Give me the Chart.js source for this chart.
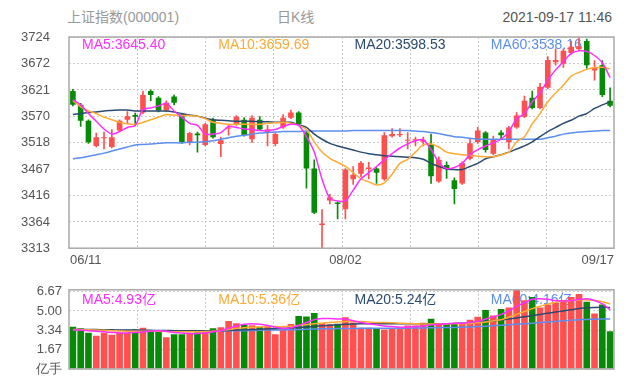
<!DOCTYPE html>
<html>
<head>
<meta charset="utf-8">
<script src="https://cdn.jsdelivr.net/npm/chart.js@4.4.0/dist/chart.umd.min.js"></script>
<style>
body { margin: 0; background: #fff; width: 641px; height: 388px; overflow: hidden; font-family: "Liberation Sans", Arial, "Noto Sans CJK SC", sans-serif; }
.head { position: absolute; top: 8px; font-size: 14px; line-height: 18px; white-space: nowrap; }
#title { left: 67px; color: #999; }
#period { left: 277px; color: #999; }
#stamp { right: 29px; color: #555; }
#kline { position: absolute; left: 0; top: 0; }
#volume { position: absolute; left: 0; top: 275px; }
</style>
</head>
<body>
<div class="head" id="title">上证指数(000001)</div>
<div class="head" id="period">日K线</div>
<div class="head" id="stamp">2021-09-17 11:46</div>
<canvas id="kline" width="641" height="275"></canvas>
<canvas id="volume" width="641" height="113"></canvas>
<script>
// trading days 06/11 - 09/17
var dates = ['06/11','06/15','06/16','06/17','06/18','06/21','06/22','06/23','06/24','06/25','06/28','06/29','06/30',
    '07/01','07/02','07/05','07/06','07/07','07/08','07/09','07/12','07/13','07/14','07/15','07/16','07/19','07/20','07/21','07/22','07/23','07/26','07/27','07/28','07/29','07/30',
    '08/02','08/03','08/04','08/05','08/06','08/09','08/10','08/11','08/12','08/13','08/16','08/17','08/18','08/19','08/20','08/23','08/24','08/25','08/26','08/27','08/30','08/31',
    '09/01','09/02','09/03','09/06','09/07','09/08','09/09','09/10','09/13','09/14','09/15','09/16','09/17'];
var axisDates = ['06/11', '08/02', '09/17'];

var openP = [3619,3592,3561,3512,3527,3510,3542,3563,3572,3577,3619,3606,3581,3608,3573,3519,3536,3514,3563,3516,
    3546,3554,3563,3525,3563,3538,3516,3548,3567,3577,3538,3468,3358,3406,3402,3389,3447,3458,3467,3468,
    3447,3531,3533,3522,3522,3520,3515,3443,3475,3445,3439,3487,3519,3538,3497,3538,3519,3548,3569,3606,
    3586,3625,3675,3672,3693,3700,3716,3659,3669,3600];
var closeP = [3592,3561,3519,3529,3529,3529,3561,3570,3569,3611,3611,3581,3596,3596,3519,3537,3533,3554,3529,3523,
    3548,3569,3533,3567,3544,3544,3535,3567,3577,3554,3468,3382,3361,3412,3399,3466,3456,3479,3470,3460,
    3533,3535,3535,3524,3525,3524,3453,3485,3468,3428,3479,3517,3542,3504,3525,3533,3548,3571,3600,3586,
    3627,3679,3679,3697,3705,3706,3669,3665,3611,3590];
var highP = [3622,3595,3563,3537,3539,3544,3563,3579,3576,3619,3621,3608,3600,3611,3575,3539,3539,3556,3566,3529,
    3552,3571,3567,3571,3569,3552,3538,3573,3582,3579,3540,3485,3388,3418,3403,3468,3472,3482,3480,3470,
    3538,3546,3546,3538,3529,3529,3535,3491,3481,3450,3481,3525,3548,3540,3531,3542,3550,3577,3609,3619,
    3634,3686,3701,3701,3716,3723.8,3720,3678,3678,3625];
var lowP = [3590,3550,3517,3510,3506,3508,3540,3556,3552,3575,3600,3578,3579,3592,3517,3514,3500,3512,3527,3491,
    3533,3552,3531,3519,3542,3512,3512,3546,3565,3552,3430,3380,3313,3399,3370,3370,3437,3452,3448,3439,
    3445,3529,3530,3506,3512,3512,3439,3441,3449,3399,3437,3485,3517,3500,3495,3525,3506,3546,3567,3584,
    3584,3623,3669,3665,3690,3697,3663,3640,3608,3588];

var ma5 = [3602,3592,3575,3560,3545,3535,3540,3548,3552,3583,3586,3590,3595,3580,3568,3556,3552,3535,3535,3538,
    3550,3548,3545,3544,3542,3542,3544,3550,3554,3552,3530,3500,3447,3410,3405,3405,3426,3448,3460,3472,
    3485,3497,3508,3516,3522,3524,3505,3480,3468,3470,3478,3495,3505,3512,3518,3525,3540,3565,3575,3598,
    3615,3640,3660,3676,3692,3697,3696,3688,3674,3645];
var ma10 = [3600,3588,3580,3575,3568,3563,3558,3555,3554,3558,3563,3568,3573,3572,3571,3571,3570,3565,3558,3556,
    3554,3554,3554,3554,3554,3556,3557,3558,3556,3552,3544,3520,3500,3488,3480,3472,3460,3448,3442,3436,
    3440,3457,3478,3486,3500,3514,3516,3510,3500,3497,3495,3494,3492,3491,3491,3495,3500,3520,3530,3555,
    3575,3598,3615,3630,3648,3655,3661,3664,3665,3662];
var ma20 = [3573,3575,3577,3578,3580,3581,3582,3582,3580,3580,3580,3580,3580,3578,3575,3572,3570,3566,3563,3562,
    3561,3560,3560,3560,3559,3559,3558,3558,3558,3553,3548,3535,3525,3517,3512,3508,3504,3500,3497,3495,
    3493,3492,3491,3490,3489,3486,3478,3472,3467,3466,3466,3472,3478,3487,3491,3495,3500,3506,3512,3520,
    3530,3540,3548,3556,3562,3570,3575,3585,3592,3598];
var ma60 = [3487,3489,3492,3495,3498,3502,3506,3510,3514,3515,3516,3517,3518,3518,3518,3519,3519,3520,3522,3525,
    3528,3531,3533,3535,3537,3538,3539,3540,3540,3540,3541,3541,3541,3541,3541,3541,3542,3542,3542,3542,
    3542,3542,3542,3542,3541,3540,3538,3536,3533,3530,3529,3527,3525,3525,3525,3525,3525,3525,3525,3525,
    3525,3528,3531,3535,3537,3539,3540,3541,3542,3542];

var volume = [3.63,3.50,3.12,2.86,3.12,2.94,3.12,3.12,3.42,3.55,3.25,3.25,2.73,3.00,3.00,3.12,3.17,3.25,3.50,3.60,
    4.14,3.94,3.80,3.76,3.63,3.63,3.00,3.38,3.88,4.57,4.52,4.83,3.96,3.85,3.90,4.45,4.00,3.56,3.56,3.45,
    3.40,3.50,3.60,3.75,3.75,3.98,4.32,3.87,3.87,3.87,3.87,4.25,4.50,5.08,4.60,5.16,5.30,6.85,5.93,6.20,
    5.30,5.56,5.70,5.95,6.20,6.45,5.80,4.78,5.56,3.25];
var vma5 = [3.35,3.35,3.3,3.25,3.2,3.15,3.1,3.1,3.15,3.2,3.25,3.3,3.25,3.15,3.1,3.05,3.05,3.1,3.2,3.3,
    3.5,3.7,3.85,3.9,3.85,3.75,3.6,3.5,3.55,3.75,4.0,4.25,4.35,4.35,4.3,4.3,4.15,4.0,3.9,3.8,
    3.7,3.65,3.6,3.6,3.65,3.7,3.8,3.85,3.9,3.95,3.95,4.0,4.1,4.3,4.5,4.7,5.0,5.4,5.7,6.0,
    6.05,6.0,5.9,5.85,5.9,6.0,6.05,5.9,5.6,5.1];
var vma10 = [3.4,3.4,3.38,3.35,3.33,3.3,3.28,3.25,3.25,3.25,3.25,3.25,3.22,3.2,3.2,3.2,3.2,3.22,3.25,3.3,
    3.4,3.5,3.55,3.6,3.62,3.65,3.65,3.65,3.68,3.75,3.82,3.9,3.95,4.0,4.05,4.1,4.1,4.08,4.05,4.0,
    4.0,3.98,3.95,3.92,3.9,3.88,3.88,3.88,3.88,3.9,3.9,3.92,3.98,4.05,4.15,4.25,4.45,4.7,4.95,5.2,
    5.4,5.6,5.75,5.85,5.9,5.95,5.95,5.9,5.8,5.6];
var vma20 = [3.4,3.4,3.4,3.4,3.38,3.38,3.36,3.35,3.35,3.34,3.33,3.32,3.32,3.3,3.3,3.3,3.3,3.3,3.3,3.3,
    3.32,3.35,3.38,3.4,3.42,3.45,3.47,3.5,3.53,3.57,3.62,3.67,3.72,3.77,3.8,3.85,3.88,3.9,3.9,3.9,
    3.9,3.9,3.9,3.9,3.9,3.9,3.9,3.9,3.9,3.92,3.95,3.98,4.02,4.08,4.14,4.22,4.3,4.4,4.5,4.6,
    4.7,4.8,4.9,5.0,5.1,5.2,5.27,5.3,5.32,5.3];
var vma60 = [3.35,3.35,3.34,3.34,3.33,3.33,3.32,3.32,3.31,3.3,3.3,3.3,3.3,3.3,3.3,3.3,3.3,3.3,3.3,3.3,
    3.3,3.3,3.3,3.32,3.33,3.35,3.36,3.37,3.38,3.4,3.42,3.44,3.46,3.47,3.48,3.48,3.49,3.5,3.5,3.5,
    3.5,3.5,3.51,3.52,3.53,3.54,3.55,3.56,3.57,3.58,3.6,3.62,3.65,3.68,3.72,3.76,3.8,3.85,3.9,3.95,
    4.0,4.05,4.1,4.15,4.2,4.24,4.27,4.29,4.3,4.3];

var priceTicks = [3313, 3364, 3416, 3467, 3518, 3570, 3621, 3672, 3724];
var volumeTicks = [0, 1.67, 3.34, 5.00, 6.67];
var priceLegend = ['MA5:3645.40', 'MA10:3659.69', 'MA20:3598.53', 'MA60:3538.16'];
var volumeLegend = ['MA5:4.93亿', 'MA10:5.36亿', 'MA20:5.24亿', 'MA60:4.16亿'];

var upColor = '#ff4f4f';
var downColor = '#078a07';
var maColors = ['#ff2eff', '#ffaa33', '#2b4a6f', '#5b8ef0'];
var textFont = '14px "Liberation Sans", Arial, "Noto Sans CJK SC", sans-serif';

var candleColors = closeP.map(function (c, i) { return c >= openP[i] ? upColor : downColor; });
var bodies = closeP.map(function (c, i) { return [openP[i], c]; });
var wicks = highP.map(function (h, i) { return [lowP[i], h]; });

function maLine(label, data, color) {
    return {
        type: 'line', label: label, data: data, borderColor: color, borderWidth: 1.5,
        pointRadius: 0, tension: 0.25, order: 0
    };
}

// dotted column lines, legend text, frame and date labels
function framePlugin(legend, legendOffset, withDates) {
    return {
        id: 'frame',
        beforeDatasetsDraw: function (chart) {
            var ctx = chart.ctx, a = chart.chartArea;
            var w = a.right - a.left;
            ctx.save();
            ctx.strokeStyle = '#c8c8c8';
            ctx.lineWidth = 1;
            ctx.setLineDash([2, 2]);
            for (var k = 1; k < 8; k++) {
                var x = Math.round(a.left + k * w / 8) + 0.5;
                ctx.beginPath();
                ctx.moveTo(x, a.top);
                ctx.lineTo(x, a.bottom);
                ctx.stroke();
            }
            ctx.setLineDash([]);
            ctx.font = textFont;
            ctx.textBaseline = 'middle';
            ctx.textAlign = 'left';
            for (var j = 0; j < legend.length; j++) {
                ctx.fillStyle = maColors[j];
                ctx.fillText(legend[j], a.left + 13 + j * w / 4, a.top + legendOffset);
            }
            ctx.restore();
        },
        afterDraw: function (chart) {
            var ctx = chart.ctx, a = chart.chartArea;
            ctx.save();
            ctx.strokeStyle = '#a9a9a9';
            ctx.lineWidth = 1.5;
            ctx.strokeRect(a.left, a.top, a.right - a.left, a.bottom - a.top);
            if (withDates) {
                var xs = chart.scales.x;
                ctx.font = '13px "Liberation Sans", Arial, sans-serif';
                ctx.fillStyle = '#555';
                ctx.textBaseline = 'middle';
                axisDates.forEach(function (d, n) {
                    var idx = dates.indexOf(d);
                    if (n === 0) {
                        ctx.textAlign = 'left';
                        ctx.fillText(d, a.left + 1, a.bottom + 12);
                    } else if (n === axisDates.length - 1) {
                        ctx.textAlign = 'right';
                        ctx.fillText(d, a.right, a.bottom + 12);
                    } else {
                        ctx.textAlign = 'center';
                        ctx.fillText(d, xs.getPixelForValue(idx), a.bottom + 12);
                    }
                });
            }
            ctx.restore();
        }
    };
}

function yScale(min, max, ticks, padding, fmt) {
    return {
        min: min, max: max,
        afterBuildTicks: function (s) { s.ticks = ticks.map(function (v) { return { value: v }; }); },
        afterFit: function (s) { s.width = 69; },
        ticks: { color: '#555', font: { size: 13 }, padding: padding, autoSkip: false, callback: fmt },
        grid: { color: '#cccccc', drawTicks: false },
        border: { display: false, dash: [2, 2] }
    };
}

var xScale = { type: 'category', display: false, offset: true, grid: { display: false } };

new Chart(document.getElementById('kline'), {
    type: 'bar',
    data: {
        labels: dates,
        datasets: [
            maLine('MA5', ma5, maColors[0]),
            maLine('MA10', ma10, maColors[1]),
            maLine('MA20', ma20, maColors[2]),
            maLine('MA60', ma60, maColors[3]),
            { type: 'bar', label: 'body', data: bodies, backgroundColor: candleColors, barPercentage: 0.72, categoryPercentage: 1, grouped: false, minBarLength: 1, order: 5 },
            { type: 'bar', label: 'wick', data: wicks, backgroundColor: candleColors, barThickness: 1, grouped: false, order: 6 }
        ]
    },
    options: {
        responsive: false,
        animation: false,
        layout: { autoPadding: false, padding: { top: 37, right: 27, bottom: 22, left: 0 } },
        plugins: { legend: { display: false }, tooltip: { enabled: false } },
        scales: {
            x: xScale,
            y: yScale(3313, 3724, priceTicks, 19, function (v) { return String(v); })
        }
    },
    plugins: [framePlugin(priceLegend, 8, true)]
});

new Chart(document.getElementById('volume'), {
    type: 'bar',
    data: {
        labels: dates,
        datasets: [
            maLine('MA5', vma5, maColors[0]),
            maLine('MA10', vma10, maColors[1]),
            maLine('MA20', vma20, maColors[2]),
            maLine('MA60', vma60, maColors[3]),
            { type: 'bar', label: 'volume', data: volume, backgroundColor: candleColors, barPercentage: 0.85, categoryPercentage: 1, order: 5 }
        ]
    },
    options: {
        responsive: false,
        animation: false,
        layout: { autoPadding: false, padding: { top: 5, right: 27, bottom: 19, left: 0 } },
        plugins: { legend: { display: false }, tooltip: { enabled: false } },
        scales: {
            x: xScale,
            y: yScale(0, 6.82, volumeTicks, 7, function (v) { return v === 0 ? '亿手' : v.toFixed(2); })
        }
    },
    plugins: [framePlugin(volumeLegend, 10, false)]
});
</script>
</body>
</html>
